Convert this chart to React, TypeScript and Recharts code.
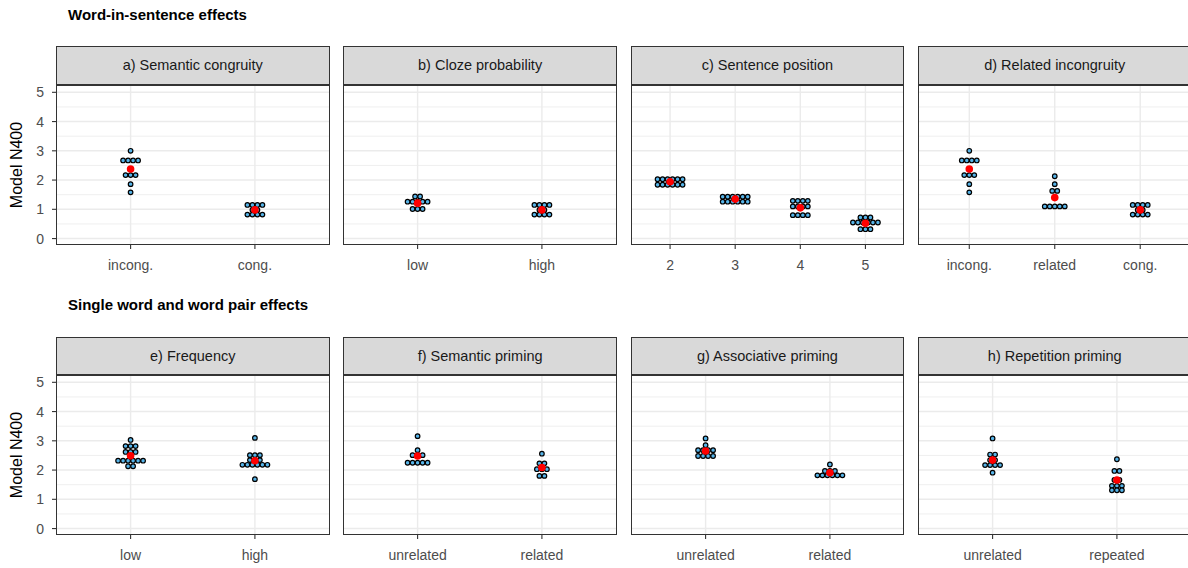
import React from "react";
import { ScatterChart, Scatter, XAxis, YAxis, ReferenceLine } from "recharts";

const FONT = "'Liberation Sans', Arial, Helvetica, sans-serif";

// a) Semantic congruity
const congruityCats = ["incong.", "cong."];
const incongruent = [3.0, 2.67, 2.67, 2.67, 2.67, 2.17, 2.17, 2.17, 1.86, 1.58];
const congruent = [1.15, 1.15, 1.15, 1.15, 0.98, 0.98, 0.82, 0.82, 0.82, 0.82];
const congruityMeans = [2.38, 0.98];

// b) Cloze probability
const clozeCats = ["low", "high"];
const clozeLow = [1.44, 1.44, 1.26, 1.26, 1.26, 1.26, 1.26, 1.01, 1.01, 1.01];
const clozeHigh = [1.15, 1.15, 1.15, 1.15, 0.98, 0.98, 0.82, 0.82, 0.82, 0.82];
const clozeMeans = [1.21, 0.98];

// c) Sentence position
const positionCats = ["2", "3", "4", "5"];
const position2 = [2.03, 2.03, 2.03, 2.03, 2.03, 2.03, 1.84, 1.84, 1.84, 1.84, 1.84, 1.84];
const position3 = [1.43, 1.43, 1.43, 1.43, 1.43, 1.43, 1.26, 1.26, 1.26, 1.26, 1.26, 1.26];
const position4 = [1.29, 1.29, 1.29, 1.29, 1.1, 1.1, 1.1, 1.1, 0.8, 0.8, 0.8, 0.8];
const position5 = [0.72, 0.72, 0.72, 0.55, 0.55, 0.55, 0.55, 0.55, 0.55, 0.32, 0.32, 0.32];
const positionMeans = [1.94, 1.35, 1.05, 0.52];

// d) Related incongruity
const relatedCats = ["incong.", "related", "cong."];
const relIncong = [3.0, 2.67, 2.67, 2.67, 2.67, 2.17, 2.17, 2.17, 1.86, 1.58];
const relRelated = [2.13, 1.86, 1.63, 1.63, 1.4, 1.1, 1.1, 1.1, 1.1, 1.1];
const relCong = [1.15, 1.15, 1.15, 1.15, 0.98, 0.98, 0.82, 0.82, 0.82, 0.82];
const relatedMeans = [2.38, 1.4, 0.98];

// e) Frequency
const freqCats = ["low", "high"];
const freqLow = [3.03, 2.82, 2.82, 2.82, 2.62, 2.62, 2.62, 2.32, 2.32, 2.32, 2.32, 2.32, 2.32, 2.13, 2.13];
const freqHigh = [3.1, 2.51, 2.51, 2.51, 2.34, 2.34, 2.34, 2.18, 2.18, 2.18, 2.18, 2.18, 2.18, 1.69];
const freqMeans = [2.49, 2.32];

// f) Semantic priming
const semPrimeCats = ["unrelated", "related"];
const semUnrel = [3.16, 2.68, 2.51, 2.51, 2.51, 2.25, 2.25, 2.25, 2.25, 2.25];
const semRel = [2.56, 2.23, 2.23, 2.03, 2.03, 2.03, 1.8, 1.8];
const semPrimeMeans = [2.48, 2.09];

// g) Associative priming
const assocCats = ["unrelated", "related"];
const assocUnrel = [3.08, 2.85, 2.68, 2.68, 2.68, 2.68, 2.48, 2.48, 2.48, 2.48];
const assocRel = [2.19, 1.97, 1.97, 1.97, 1.82, 1.82, 1.82, 1.82, 1.82, 1.82];
const assocMeans = [2.65, 1.91];

// h) Repetition priming
const repCats = ["unrelated", "repeated"];
const repUnrel = [3.08, 2.53, 2.53, 2.34, 2.34, 2.17, 2.17, 2.17, 2.17, 1.91];
const repRep = [2.37, 1.97, 1.97, 1.66, 1.66, 1.46, 1.46, 1.46, 1.31, 1.31, 1.31];
const repMeans = [2.34, 1.66];

const yTicks = [0, 1, 2, 3, 4, 5];
const yMinor = [0.5, 1.5, 2.5, 3.5, 4.5];

interface PanelConfig {
  title: string;
  cats: string[];
  groups: number[][];
  means: number[];
}

const rows: { title: string; panels: PanelConfig[] }[] = [
  {
    title: "Word-in-sentence effects",
    panels: [
      { title: "a) Semantic congruity", cats: congruityCats, groups: [incongruent, congruent], means: congruityMeans },
      { title: "b) Cloze probability", cats: clozeCats, groups: [clozeLow, clozeHigh], means: clozeMeans },
      { title: "c) Sentence position", cats: positionCats, groups: [position2, position3, position4, position5], means: positionMeans },
      { title: "d) Related incongruity", cats: relatedCats, groups: [relIncong, relRelated, relCong], means: relatedMeans },
    ],
  },
  {
    title: "Single word and word pair effects",
    panels: [
      { title: "e) Frequency", cats: freqCats, groups: [freqLow, freqHigh], means: freqMeans },
      { title: "f) Semantic priming", cats: semPrimeCats, groups: [semUnrel, semRel], means: semPrimeMeans },
      { title: "g) Associative priming", cats: assocCats, groups: [assocUnrel, assocRel], means: assocMeans },
      { title: "h) Repetition priming", cats: repCats, groups: [repUnrel, repRep], means: repMeans },
    ],
  },
];

const PANEL_X0 = 56;
const PANEL_STEP = 287.33;
const PANEL_W = 273.5;
const PLOT_H = 160;
const AXIS_W = 56;
const DOT_STEP = 5;
const Y_DOMAIN: [number, number] = [-0.22, 5.25];
const rowLayout = [
  { titleY: 6, stripTop: 46, plotTop: 84.5 },
  { titleY: 296, stripTop: 336.5, plotTop: 375 },
];

// centre each run of equal values horizontally, like a dotplot
function buildDots(groups: number[][]) {
  return groups.flatMap((vals, gi) => {
    const counts = new Map<number, number>();
    vals.forEach((v) => counts.set(v, (counts.get(v) || 0) + 1));
    const seen = new Map<number, number>();
    return vals.map((v) => {
      const m = counts.get(v) || 1;
      const i = seen.get(v) || 0;
      seen.set(v, i + 1);
      return { x: gi + 1, y: v, k: i - (m - 1) / 2 };
    });
  });
}

const renderDot = (props: any) => (
  <circle
    cx={props.cx + props.payload.k * DOT_STEP}
    cy={props.cy}
    r={2.3}
    fill="#56B4E9"
    stroke="#000"
    strokeWidth={1.2}
  />
);

const renderMean = (props: any) => <circle cx={props.cx} cy={props.cy} r={3.8} fill="#FF0000" />;

const tickStyle = { fill: "#4D4D4D", fontSize: 14, fontFamily: FONT };

function Panel({ cfg, left, top, first }: { cfg: PanelConfig; left: number; top: number; first: boolean }) {
  const n = cfg.cats.length;
  const xTicks = cfg.cats.map((_, i) => i + 1);
  const dots = buildDots(cfg.groups);
  const means = cfg.means.map((m, i) => ({ x: i + 1, y: m }));
  const yw = first ? AXIS_W : 0;
  return (
    <div style={{ position: "absolute", left: left - yw, top }}>
      <ScatterChart width={PANEL_W + yw} height={PLOT_H + 36} margin={{ top: 0, right: 0, bottom: 0, left: 0 }}>
        <XAxis
          type="number"
          dataKey="x"
          domain={[0.4, n + 0.6]}
          ticks={xTicks}
          interval={0}
          allowDataOverflow
          tickFormatter={(v: number) => cfg.cats[v - 1]}
          axisLine={false}
          tickLine={{ stroke: "#333333", strokeWidth: 1.1 }}
          tickSize={4}
          tickMargin={11}
          height={36}
          tick={tickStyle}
        />
        <YAxis
          type="number"
          dataKey="y"
          domain={Y_DOMAIN}
          ticks={yTicks}
          interval={0}
          allowDataOverflow
          hide={!first}
          width={yw}
          axisLine={false}
          tickLine={{ stroke: "#333333", strokeWidth: 1.1 }}
          tickSize={4}
          tickMargin={8}
          tick={tickStyle}
        />
        {yMinor.map((v) => (
          <ReferenceLine key={"mn" + v} y={v} stroke="#EBEBEB" strokeWidth={0.8} />
        ))}
        {yTicks.map((v) => (
          <ReferenceLine key={"mj" + v} y={v} stroke="#EBEBEB" strokeWidth={1.4} />
        ))}
        {xTicks.map((v) => (
          <ReferenceLine key={"vx" + v} x={v} stroke="#EBEBEB" strokeWidth={1.4} />
        ))}
        <Scatter data={dots} shape={renderDot} isAnimationActive={false} />
        <Scatter data={means} shape={renderMean} isAnimationActive={false} />
      </ScatterChart>
    </div>
  );
}

export default function App() {
  return (
    <div
      style={{
        position: "absolute",
        left: 0,
        top: 0,
        width: 1188,
        height: 568,
        overflow: "hidden",
        background: "#fff",
        fontFamily: FONT,
      }}
    >
      {rows.map((row, ri) => {
        const lay = rowLayout[ri];
        return (
          <React.Fragment key={row.title}>
            <div
              style={{
                position: "absolute",
                left: 68,
                top: lay.titleY,
                fontSize: 15,
                fontWeight: "bold",
                color: "#000",
                lineHeight: "18px",
                whiteSpace: "nowrap",
              }}
            >
              {row.title}
            </div>
            <div
              style={{
                position: "absolute",
                left: 17 - 100,
                top: lay.plotTop + PLOT_H / 2 - 10,
                width: 200,
                height: 20,
                lineHeight: "20px",
                textAlign: "center",
                fontSize: 16,
                color: "#000",
                transform: "rotate(-90deg)",
              }}
            >
              Model N400
            </div>
            {row.panels.map((p, pi) => {
              const left = PANEL_X0 + pi * PANEL_STEP;
              return (
                <React.Fragment key={p.title}>
                  <Panel cfg={p} left={left} top={lay.plotTop} first={pi === 0} />
                  <div
                    style={{
                      position: "absolute",
                      left,
                      top: lay.stripTop,
                      width: PANEL_W,
                      height: lay.plotTop - lay.stripTop,
                      background: "#D9D9D9",
                      border: "1.2px solid #333333",
                      boxSizing: "border-box",
                      display: "flex",
                      alignItems: "center",
                      justifyContent: "center",
                      fontSize: 14.5,
                      color: "#1A1A1A",
                    }}
                  >
                    {p.title}
                  </div>
                  <div
                    style={{
                      position: "absolute",
                      left,
                      top: lay.plotTop,
                      width: PANEL_W,
                      height: PLOT_H,
                      border: "1.3px solid #333333",
                      boxSizing: "border-box",
                      pointerEvents: "none",
                    }}
                  />
                </React.Fragment>
              );
            })}
          </React.Fragment>
        );
      })}
    </div>
  );
}
